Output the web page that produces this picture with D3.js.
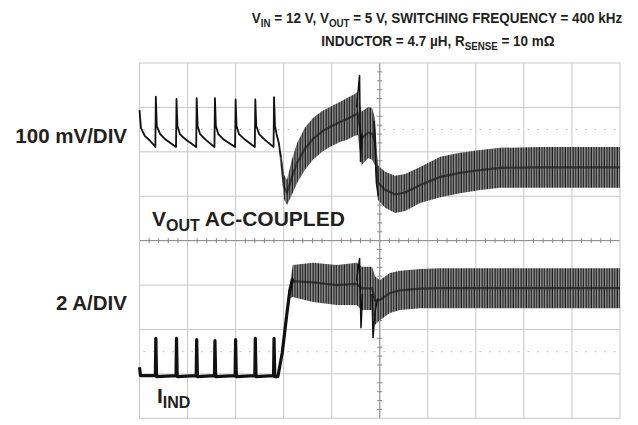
<!DOCTYPE html>
<html lang="en">
  <head>
    <meta charset="UTF-8" />
    <script src="https://cdn.jsdelivr.net/npm/d3@7/dist/d3.min.js"></script>
    <style>
      body {
        margin: 0;
        background: #fff;
      }
      text {
        font-family: "Liberation Sans", Arial, sans-serif;
        font-weight: bold;
        fill: #231f20;
      }
    </style>
  </head>
  <body>
    <div id="chart"></div>
    <script>
      // scope readings, in divisions (time 0..10, amplitude -4..4)
      const voutLine = [
        [0, 2.94], [0.03, 2.54], [0.11, 2.36], [0.22, 2.25], [0.33, 2.11],
        [0.34, 3.24], [0.36, 2.58], [0.43, 2.4], [0.55, 2.27], [0.76, 2.11],
        [0.77, 3.19], [0.79, 2.58], [0.84, 2.4], [0.97, 2.27], [1.18, 2.11],
        [1.19, 3.21], [1.21, 2.58], [1.26, 2.4], [1.38, 2.27], [1.56, 2.11],
        [1.57, 3.21], [1.59, 2.58], [1.64, 2.4], [1.76, 2.27], [1.99, 2.11],
        [2.0, 3.18], [2.02, 2.58], [2.07, 2.4], [2.2, 2.27], [2.4, 2.11],
        [2.41, 3.18], [2.43, 2.58], [2.49, 2.4], [2.61, 2.27], [2.79, 2.11],
        [2.8, 3.23], [2.82, 2.58], [2.86, 2.36], [2.9, 2.2], [2.94, 1.87],
      ];
      const voutSpikes = [
        [[4.52, 3.0], [4.58, 3.73], [4.6, 1.77], [4.63, 2.4]],
        [[4.88, 2.7], [4.93, 1.3], [4.97, 1.0]],
      ];
      // [time, upper envelope, lower envelope]
      const voutBand = [
        [2.94, 2.04, 1.7], [3.01, 1.48, 0.92], [3.07, 1.37, 0.8],
        [3.17, 1.82, 1.03], [3.28, 2.2, 1.3], [3.44, 2.54, 1.59],
        [3.61, 2.76, 1.82], [3.8, 2.92, 2.0], [3.96, 3.01, 2.11],
        [4.17, 3.12, 2.22], [4.32, 3.21, 2.27], [4.48, 3.3, 2.36],
        [4.54, 3.35, 2.38], [4.62, 2.9, 1.7], [4.76, 3.01, 1.86],
        [4.84, 2.99, 1.82], [4.9, 2.76, 1.7], [4.96, 1.7, 0.92],
        [5.11, 1.55, 0.74], [5.32, 1.46, 0.62], [5.53, 1.5, 0.67],
        [5.84, 1.66, 0.85], [6.26, 1.89, 0.98], [6.67, 1.98, 1.07],
        [7.09, 2.04, 1.14], [7.51, 2.09, 1.19], [8.34, 2.11, 1.19],
        [10, 2.11, 1.19],
      ];

      const iindLine = [
        [0, -2.85], [0.02, -3.04], [0.33, -3.04], [0.34, -2.2], [0.355, -3.06],
        [0.76, -3.04], [0.77, -2.2], [0.785, -3.06], [1.18, -3.04],
        [1.19, -2.23], [1.205, -3.06], [1.56, -3.04], [1.57, -2.25],
        [1.585, -3.06], [1.99, -3.04], [2.0, -2.23], [2.015, -3.06],
        [2.4, -3.04], [2.41, -2.2], [2.425, -3.06], [2.79, -3.04],
        [2.8, -2.2], [2.815, -3.06], [2.88, -3.06], [2.97, -2.53],
        [3.07, -1.62], [3.13, -1.11], [3.19, -0.85],
      ];
      const iindSpikes = [
        [[4.52, -0.9], [4.58, -0.39], [4.61, -1.97], [4.64, -1.2]],
        [[4.84, -1.2], [4.86, -2.19], [4.9, -1.6], [4.96, -1.3]],
      ];
      const iindBand = [
        [3.13, -1.0, -1.3], [3.19, -0.55, -1.27], [3.61, -0.5, -1.38],
        [4.11, -0.55, -1.45], [4.52, -0.5, -1.45], [4.62, -0.59, -1.56],
        [4.84, -0.59, -1.56], [4.9, -0.8, -1.9], [5.0, -0.89, -1.79],
        [5.21, -0.73, -1.63], [5.42, -0.68, -1.56], [5.84, -0.64, -1.52],
        [6.26, -0.62, -1.52], [10, -0.62, -1.52],
      ];

      const width = 638;
      const height = 425;
      const plot = { left: 139.5, right: 620, top: 63, bottom: 418.3 };

      const x = d3.scaleLinear().domain([0, 10]).range([plot.left, plot.right]);
      const y = d3.scaleLinear().domain([-4, 4]).range([plot.bottom, plot.top]);

      const svg = d3
        .select("#chart")
        .append("svg")
        .attr("width", width)
        .attr("height", height);

      // ripple texture: dense vertical switching lines
      const pat = svg
        .append("defs")
        .append("pattern")
        .attr("id", "ripple")
        .attr("patternUnits", "userSpaceOnUse")
        .attr("width", 2.6)
        .attr("height", 10);
      pat.append("rect").attr("width", 2.6).attr("height", 10).attr("fill", "#959595");
      pat
        .append("rect")
        .attr("x", 0.5)
        .attr("width", 1.2)
        .attr("height", 10)
        .attr("fill", "#1a1a1a");

      // graticule
      const grid = svg.append("g").attr("stroke", "#c8c8c8").attr("stroke-width", 1);
      grid
        .selectAll(".vx")
        .data(d3.range(1, 10))
        .join("line")
        .attr("x1", (d) => x(d))
        .attr("x2", (d) => x(d))
        .attr("y1", y(-4))
        .attr("y2", y(4));
      grid
        .selectAll(".hy")
        .data(d3.range(-3, 4))
        .join("line")
        .attr("y1", (d) => y(d))
        .attr("y2", (d) => y(d))
        .attr("x1", x(0))
        .attr("x2", x(10));

      // trace reference markers (dotted)
      svg
        .append("g")
        .attr("stroke", "#b0b0b0")
        .attr("stroke-width", 1)
        .attr("stroke-dasharray", "1.5 8.1")
        .selectAll("line")
        .data([2.5, -2.5])
        .join("line")
        .attr("y1", (d) => y(d))
        .attr("y2", (d) => y(d))
        .attr("x1", x(0) + 4)
        .attr("x2", x(10));

      // center axes with minor ticks
      const axes = svg.append("g").attr("stroke", "#8c8c8c").attr("stroke-width", 1);
      axes.append("line").attr("x1", x(5)).attr("x2", x(5)).attr("y1", y(-4)).attr("y2", y(4));
      axes.append("line").attr("x1", x(0)).attr("x2", x(10)).attr("y1", y(0)).attr("y2", y(0));
      axes
        .selectAll(".tx")
        .data(d3.range(1, 50).filter((d) => d % 5 !== 0))
        .join("line")
        .attr("x1", (d) => x(d / 5))
        .attr("x2", (d) => x(d / 5))
        .attr("y1", y(0) - 2.5)
        .attr("y2", y(0) + 2.5);
      axes
        .selectAll(".ty")
        .data(d3.range(-19, 20).filter((d) => d % 5 !== 0))
        .join("line")
        .attr("y1", (d) => y(d / 5))
        .attr("y2", (d) => y(d / 5))
        .attr("x1", x(5) - 2.5)
        .attr("x2", x(5) + 2.5);

      // border
      svg
        .append("rect")
        .attr("x", x(0))
        .attr("y", y(4))
        .attr("width", x(10) - x(0))
        .attr("height", y(-4) - y(4))
        .attr("fill", "none")
        .attr("stroke", "#c8c8c8");

      const line = d3
        .line()
        .x((d) => x(d[0]))
        .y((d) => y(d[1]));
      const band = d3
        .area()
        .x((d) => x(d[0]))
        .y0((d) => y(d[2]))
        .y1((d) => y(d[1]));
      const mid = d3
        .line()
        .x((d) => x(d[0]))
        .y((d) => y((d[1] + d[2]) / 2));

      const traces = [
        { band: voutBand, line: voutLine, spikes: voutSpikes, lw: 1.8 },
        { band: iindBand, line: iindLine, spikes: iindSpikes, lw: 3.2 },
      ];

      traces.forEach((t) => {
        const g = svg.append("g");
        g.append("path").attr("d", band(t.band)).attr("fill", "url(#ripple)");
        g.append("path")
          .attr("d", mid(t.band))
          .attr("fill", "none")
          .attr("stroke", "#111")
          .attr("stroke-opacity", 0.6)
          .attr("stroke-width", 2.2);
        g.append("path")
          .attr("d", line(t.line))
          .attr("fill", "none")
          .attr("stroke", "#111")
          .attr("stroke-width", t.lw)
          .attr("stroke-linejoin", "round");
        g.selectAll(".spk")
          .data(t.spikes)
          .join("path")
          .attr("d", line)
          .attr("fill", "none")
          .attr("stroke", "#111")
          .attr("stroke-width", 1.5);
      });

      // title (slightly condensed, like the original face)
      const tg = svg.append("g").attr("transform", "translate(437,0) scale(0.93,1)");
      const l1 = tg
        .append("text")
        .attr("text-anchor", "middle")
        .style("font-size", "14.5px")
        .attr("x", 0)
        .attr("y", 23);
      l1.append("tspan").text("V");
      l1.append("tspan").attr("dy", 4).style("font-size", "10.5px").text("IN");
      l1.append("tspan").attr("dy", -4).text(" = 12 V, V");
      l1.append("tspan").attr("dy", 4).style("font-size", "10.5px").text("OUT");
      l1.append("tspan").attr("dy", -4).text(" = 5 V, SWITCHING FREQUENCY = 400 kHz");
      const l2 = tg
        .append("text")
        .attr("text-anchor", "middle")
        .style("font-size", "14.5px")
        .attr("x", 1)
        .attr("y", 46);
      l2.append("tspan").text("INDUCTOR = 4.7 µH, R");
      l2.append("tspan").attr("dy", 4).style("font-size", "10.5px").text("SENSE");
      l2.append("tspan").attr("dy", -4).text(" = 10 m\u03A9");

      // channel labels
      svg
        .append("text")
        .attr("x", 127)
        .attr("y", 143)
        .attr("text-anchor", "end")
        .style("font-size", "20.5px")
        .text("100 mV/DIV");
      svg
        .append("text")
        .attr("x", 127)
        .attr("y", 310)
        .attr("text-anchor", "end")
        .style("font-size", "20.5px")
        .text("2 A/DIV");

      const vl = svg.append("text").attr("x", 152).attr("y", 226).style("font-size", "21px");
      vl.append("tspan").text("V");
      vl.append("tspan").attr("dy", 5).style("font-size", "16px").text("OUT");
      vl.append("tspan").attr("dy", -5).text(" AC-COUPLED");

      const il = svg.append("text").attr("x", 157).attr("y", 403).style("font-size", "21px");
      il.append("tspan").text("I");
      il.append("tspan").attr("dy", 5).style("font-size", "16px").text("IND");
    </script>
  </body>
</html>
